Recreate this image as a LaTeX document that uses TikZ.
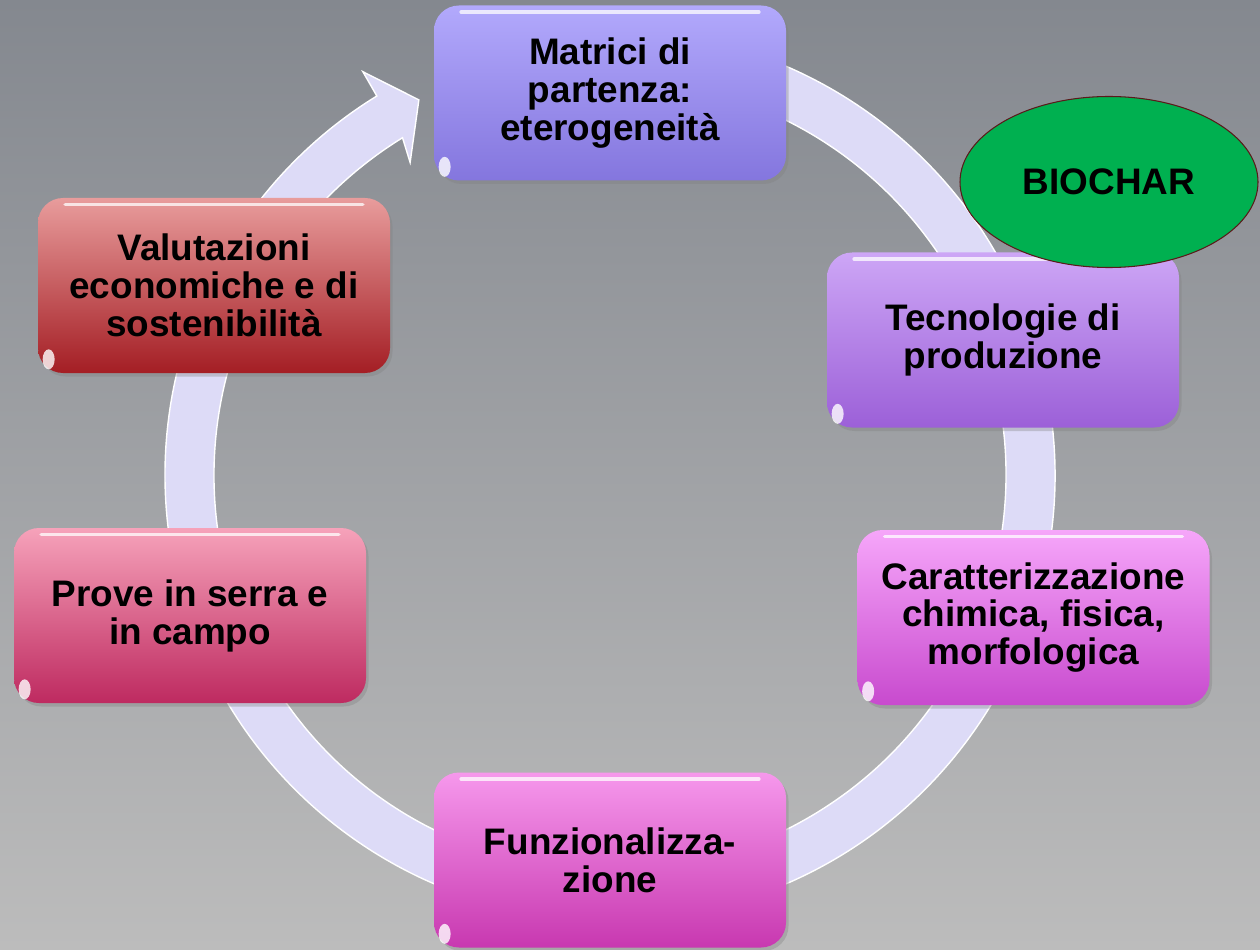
\documentclass[tikz,border=0pt]{standalone}
\usepackage{fontspec}
\setmainfont{Liberation Sans}
\usepackage{tikz}
\usetikzlibrary{shapes,shadows}

\definecolor{bgtop}{RGB}{132,136,143}
\definecolor{bgbot}{RGB}{188,188,188}
\definecolor{ringfill}{RGB}{221,219,247}
\definecolor{biogreen}{RGB}{0,176,80}
\definecolor{bioline}{RGB}{90,26,26}
\definecolor{matop}{RGB}{178,169,252}
\definecolor{mabot}{RGB}{132,118,222}
\definecolor{tetop}{RGB}{205,166,246}
\definecolor{tebot}{RGB}{156,96,216}
\definecolor{catop}{RGB}{246,166,250}
\definecolor{cabot}{RGB}{200,74,206}
\definecolor{futop}{RGB}{246,152,236}
\definecolor{fubot}{RGB}{200,56,176}
\definecolor{prtop}{RGB}{246,162,186}
\definecolor{prbot}{RGB}{190,42,96}
\definecolor{vatop}{RGB}{232,156,156}
\definecolor{vabot}{RGB}{164,30,36}

\tikzset{
  stage/.style 2 args={rounded corners=0.5cm, minimum width=7.04cm, minimum height=3.5cm,
    top color=#1, bottom color=#2, draw=none, align=center,
    font=\bfseries\fontsize{21}{21.6}\selectfont,
    drop shadow={opacity=0.35, shadow xshift=0.05cm, shadow yshift=-0.07cm}}
}

\begin{document}
\begin{tikzpicture}

\useasboundingbox (0,0) rectangle (25.2,18.98);
\shade[top color=bgtop, bottom color=bgbot] (0,0) rectangle (25.2,18.98);

% cycle arrow
\coordinate (c) at (12.2,9.48);
\begin{scope}[shift={(c)}]
\filldraw[fill=ringfill, draw=white, line width=0.8pt]
  (100:8.9) arc[start angle=100, end angle=-238.4, radius=8.9]
  -- (-238.5:9.46) -- (-243:8.42) -- (-237.4:7.42)
  -- (-238.4:7.92) arc[start angle=-238.4, end angle=100, radius=7.92] -- cycle;
\end{scope}

\node [stage={matop}{mabot}] (b1) at (12.2,17.12) {Matrici di\\partenza:\\eterogeneità};
\node [stage={tetop}{tebot}] (b2) at (20.06,12.18) {Tecnologie di\\produzione};
\node [stage={catop}{cabot}] (b3) at (20.67,6.63) {Caratterizzazione\\chimica, fisica,\\morfologica};
\node [stage={futop}{fubot}] (b4) at (12.2,1.78) {Funzionalizza-\\zione};
\node [stage={prtop}{prbot}] (b5) at (3.8,6.67) {Prove in serra e\\in campo};
\node [stage={vatop}{vabot}] (b6) at (4.28,13.27) {Valutazioni\\economiche e di\\sostenibilità};

% glossy edges
\foreach \b in {b1,b2,b3,b4,b5,b6} {
  \draw[white, opacity=0.75, line width=2pt, line cap=round]
    ([xshift=0.55cm,yshift=-0.14cm]\b.north west) -- ([xshift=-0.55cm,yshift=-0.14cm]\b.north east);
  \fill[white, opacity=0.8] ([xshift=0.22cm,yshift=0.28cm]\b.south west) ellipse [x radius=0.12cm, y radius=0.2cm];
}

\node [ellipse,draw=bioline,fill=biogreen,line width=0.6pt,minimum width=5.96cm,minimum height=3.42cm,
  font=\bfseries\fontsize{21}{24}\selectfont] (v1) at (22.18,15.34) {BIOCHAR};

\end{tikzpicture}
\end{document}
